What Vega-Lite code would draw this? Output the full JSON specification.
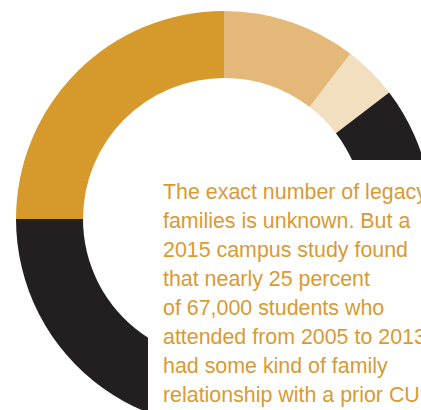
{
  "$schema": "https://vega.github.io/schema/vega-lite/v6.json",
  "autosize": {"type": "none"},
  "width": 394,
  "height": 382,
  "padding": {"left": 27, "top": 28, "right": 0, "bottom": 0},
  "background": "white",
  "view": {"stroke": null},
  "layer": [
    {
      "data": {"values": [
        {"segment": "Group A", "share": 10.4, "rank": 1},
        {"segment": "Group B", "share": 4.2, "rank": 2},
        {"segment": "Other", "share": 60.4, "rank": 3},
        {"segment": "Legacy", "share": 25.0, "rank": 4}
      ]},
      "mark": {"type": "arc", "radius": 208, "radius2": 141},
      "encoding": {
        "theta": {"field": "share", "type": "quantitative", "stack": true},
        "order": {"field": "rank", "type": "quantitative"},
        "color": {
          "field": "segment",
          "type": "nominal",
          "scale": {
            "domain": ["Group A", "Group B", "Other", "Legacy"],
            "range": ["#e3b879", "#f2dfc0", "#231f20", "#d5992c"]
          },
          "legend": null
        }
      }
    },
    {
      "data": {"values": [{"box": "note"}]},
      "mark": {"type": "rect", "x": 121, "y": 132, "x2": 520, "y2": 520, "fill": "white"},
      "encoding": {}
    },
    {
      "data": {"values": [{"note": "The exact number of legacy\nfamilies is unknown. But a\n2015 campus study found\nthat nearly 25 percent\nof 67,000 students who\nattended from 2005 to 2013\nhad some kind of family\nrelationship with a prior CU"}]},
      "mark": {
        "type": "text",
        "x": 136,
        "y": 170.5,
        "align": "left",
        "baseline": "alphabetic",
        "lineBreak": "\n",
        "lineHeight": 29,
        "font": "Liberation Sans",
        "fontSize": 21.4,
        "color": "#d99a33"
      },
      "encoding": {"text": {"field": "note", "type": "nominal"}}
    }
  ]
}
